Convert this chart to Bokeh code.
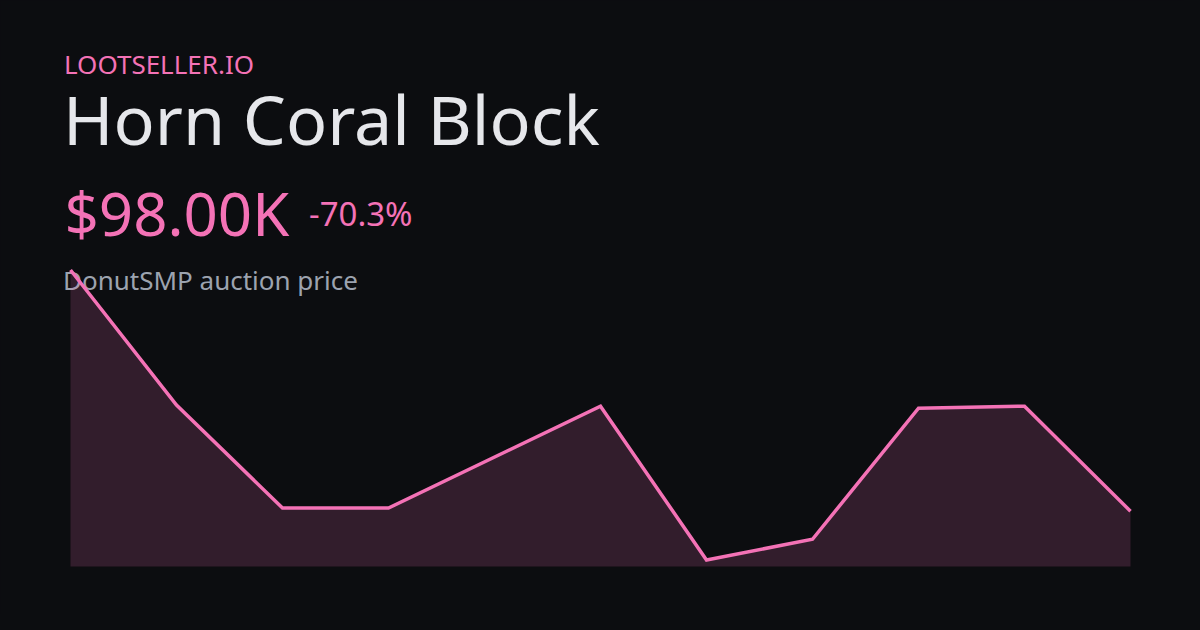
from bokeh.plotting import figure
from bokeh.models import Label, Range1d
from bokeh.embed import file_html
from bokeh.resources import INLINE

# ---- data (thousands of $), day index ----
days = [0, 1, 2, 3, 5, 6, 7, 8, 9, 10]
prices = [330, 200, 101, 101, 199, 51, 71, 197, 199, 98]
site = "LOOTSELLER.IO"
item = "Horn Coral Block"
subtitle = "DonutSMP auction price"

BG = "#0c0d10"
PINK = "#f472b6"
TITLE = "#e6e7eb"
GREY = "#9ca3af"
FONT = "Noto Sans"

W, H = 1184, 614

last = prices[-1]
change = (prices[-1] - prices[0]) / prices[0] * 100
price_text = f"${last:.2f}K"
change_text = f"{change:.1f}%"
baseline = min(prices) - 0.022 * (max(prices) - min(prices))

p = figure(width=W, height=H, output_backend="svg", toolbar_location=None,
           x_axis_location=None, y_axis_location=None, min_border=0,
           background_fill_color=BG, border_fill_color=BG, outline_line_color=None)
p.grid.visible = False
p.x_range = Range1d(-0.6604, 10.5094)
p.y_range = Range1d(-1.4, 589.2)

p.varea(x=days, y1=[baseline] * len(days), y2=prices, fill_color=PINK, fill_alpha=0.17)
p.line(x=days, y=prices, line_color=PINK, line_width=3.5, line_join="miter")


def lab(text, px, py, size, color):
    # px, py: page coordinates of text origin (left, alphabetic baseline)
    fs = float(size)
    p.add_layout(Label(x=px, y=H - (py - 0.41 * fs), x_units="screen", y_units="screen",
                       text=text, text_font=FONT, text_font_size=f"{size}px",
                       text_color=color, text_baseline="alphabetic",
                       text_align="left", level="underlay"))


lab(site, 63.5, 74.5, "26", PINK)
lab(item, 62.5, 146, "68.2", TITLE)
lab(price_text, 64, 237, "60", PINK)
lab(change_text, 308.5, 227, "33", PINK)
lab(subtitle, 62.5, 290, "26", GREY)

html = file_html(p, INLINE)
html = html.replace("</head>", f"<style>html,body{{background:{BG};margin:0;}}</style></head>", 1)
open("out.html", "w").write(html)
